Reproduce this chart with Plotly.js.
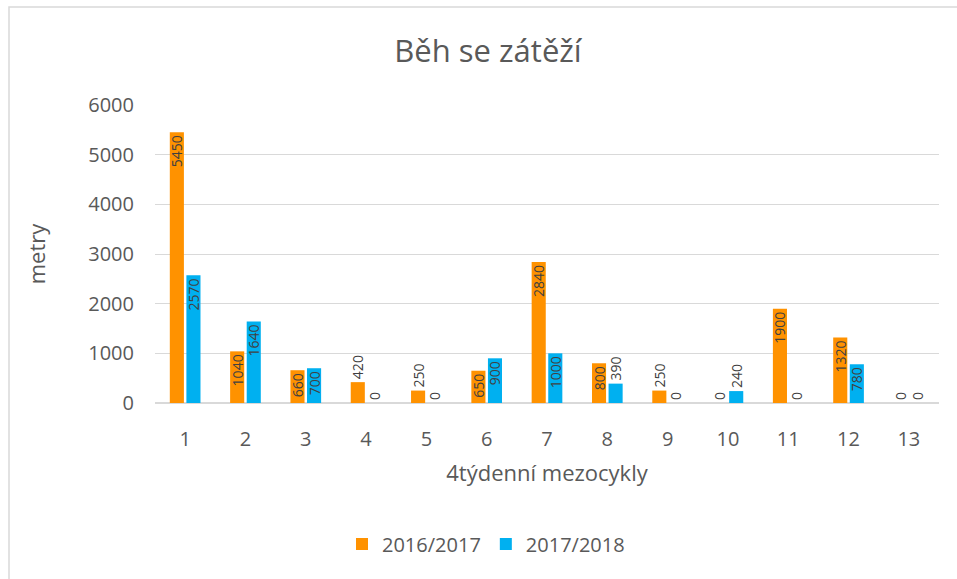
<!DOCTYPE html>
<html>
<head>
<meta charset="utf-8">
<script src="https://cdn.plot.ly/plotly-3.0.1.min.js"></script>
<style>html,body{margin:0;padding:0;background:#fff;}#chart{width:957px;height:579px;}</style>
</head>
<body>
<div id="chart"></div>
<script>
const categories = ['1','2','3','4','5','6','7','8','9','10','11','12','13'];
const season1Name = '2016/2017';
const season2Name = '2017/2018';
const season1 = [5450, 1040, 660, 420, 250, 650, 2840, 800, 250, 0, 1900, 1320, 0];
const season2 = [2570, 1640, 700, 0, 0, 900, 1000, 390, 0, 240, 0, 780, 0];
const yTicks = [0, 1000, 2000, 3000, 4000, 5000, 6000];

const txtColor = '#595959';
const lblFont = {family: 'Open Sans', size: 14, color: '#404040'};

function makeTrace(name, vals, color) {
  return {
    type: 'bar', name: name, x: categories, y: vals,
    marker: {color: color},
    text: vals.map(String),
    textposition: vals.map(v => v >= 600 ? 'inside' : 'outside'),
    insidetextanchor: 'end',
    textangle: -90,
    constraintext: 'none',
    cliponaxis: false,
    textfont: lblFont, insidetextfont: lblFont, outsidetextfont: lblFont,
    hoverinfo: 'x+y'
  };
}

const data = [
  makeTrace(season1Name, season1, '#FF9200'),
  makeTrace(season2Name, season2, '#00B0F0')
];

const L = 155, R = 18, T = 105, B = 176, W = 957, H = 579;
const pw = W - L - R, ph = H - T - B;
function px(x) { return (x - L) / pw; }
function py(y) { return (H - B - y) / ph; }

const layout = {
  width: W, height: H,
  margin: {l: L, r: R, t: T, b: B, pad: 0},
  paper_bgcolor: '#ffffff', plot_bgcolor: '#ffffff',
  font: {family: 'Open Sans', color: txtColor},
  title: {text: 'Běh se zátěží', font: {family: 'Open Sans', size: 31, color: txtColor},
          x: 488 / W, xref: 'container', xanchor: 'center', y: 1 - 51 / H, yref: 'container', yanchor: 'middle'},
  bargap: 0.45, bargroupgap: 0.15, barmode: 'group',
  xaxis: {
    type: 'category', showgrid: false, zeroline: false, showline: false, ticks: '',
    tickfont: {size: 20, color: txtColor}, ticklabelstandoff: 22,
    title: {text: '4týdenní mezocykly', font: {size: 22, color: txtColor}, standoff: 14}
  },
  yaxis: {
    range: [0, 6000], tickvals: yTicks, ticktext: yTicks.map(String),
    showgrid: true, gridcolor: '#d9d9d9', gridwidth: 1,
    zeroline: true, zerolinecolor: '#d9d9d9', zerolinewidth: 1.5, showline: false, ticks: '',
    tickfont: {size: 20, color: txtColor}, ticklabelstandoff: 20,
    title: {text: 'metry', font: {size: 22, color: txtColor}, standoff: 36}
  },
  showlegend: true,
  legend: {orientation: 'h', x: 486 / W, xref: 'container', xanchor: 'center',
           y: 1 - 544 / H, yref: 'container', yanchor: 'middle',
           font: {size: 20, color: txtColor}, itemwidth: 30, traceorder: 'normal'},
  shapes: [{type: 'rect', xref: 'paper', yref: 'paper',
            x0: px(9), x1: px(990), y0: py(620), y1: py(7),
            line: {color: '#d9d9d9', width: 1.5}, fillcolor: 'rgba(0,0,0,0)', layer: 'below'}]
};

Plotly.newPlot('chart', data, layout, {displayModeBar: false, staticPlot: true});
</script>
</body>
</html>
